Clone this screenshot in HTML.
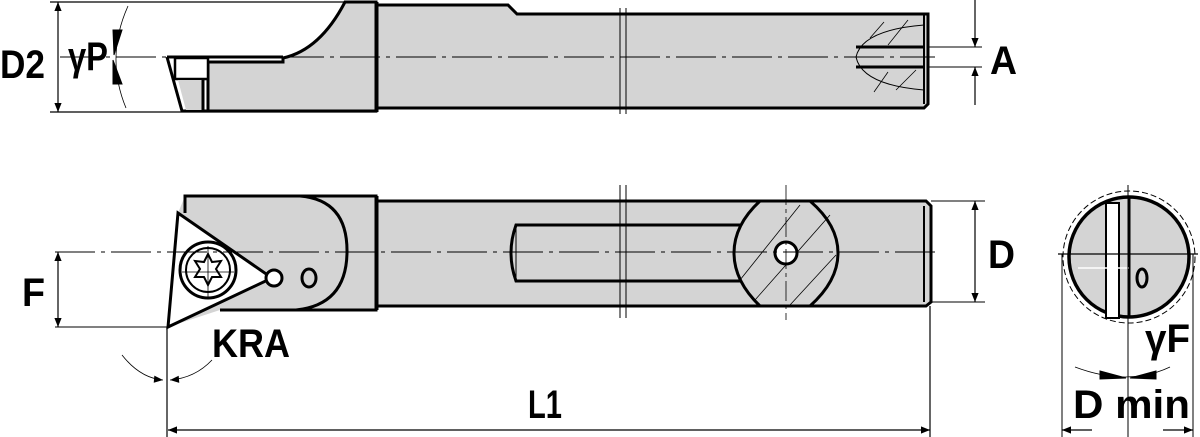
<!DOCTYPE html>
<html><head><meta charset="utf-8"><style>
html,body{margin:0;padding:0;background:#fff;}
svg{display:block;}
text{font-family:"Liberation Sans",sans-serif;fill:#000;font-weight:bold;}
</style></head><body>
<svg width="1200" height="437" viewBox="0 0 1200 437" xmlns="http://www.w3.org/2000/svg">
<defs>
<marker id="ar" viewBox="0 0 10 10" refX="10" refY="5" markerWidth="16" markerHeight="9" orient="auto-start-reverse" markerUnits="userSpaceOnUse"><path d="M0,1 L10,5 L0,9 z" fill="#000"/></marker>
</defs>
<g stroke="#000" fill="none">
<line x1="50" y1="2" x2="377" y2="2" stroke-width="1.2"/>
<line x1="50" y1="112" x2="377" y2="112" stroke-width="1.2"/>
<path d="M345,2 L376,2 L376,111 L208,111 L208,62 L283,62 L283,58 Q320,50 345,2 Z" fill="#d4d4d4" stroke-width="3"/>
<path d="M167,57 L283,57" stroke-width="3"/>
<path d="M167,57 L182,111 L208,111" stroke-width="3"/>
<rect x="175" y="58" width="33" height="21" fill="#fff" stroke-width="2.5"/>
<path d="M178,80 L203,80 L203,110 L186,110 Z" fill="#d4d4d4" stroke="none"/>
<line x1="203" y1="80" x2="203" y2="111" stroke-width="3"/>
<path d="M377,5 L508,5 L517,14 L928,14 L928,104 L924,108 L377,108 Z" fill="#d4d4d4" stroke-width="3"/>
<line x1="377" y1="2" x2="377" y2="112" stroke-width="3"/>
<line x1="620" y1="8" x2="620" y2="114" stroke-width="1"/>
<line x1="626" y1="8" x2="626" y2="114" stroke-width="1"/>
<line x1="924" y1="14" x2="924" y2="104" stroke-width="2"/>
<path d="M924,25 Q862,30 856,57 Q862,85 924,90" stroke-width="1"/>
<line x1="856" y1="47" x2="924" y2="47" stroke-width="3"/>
<line x1="856" y1="67" x2="924" y2="67" stroke-width="3"/>
<line x1="870" y1="38" x2="884" y2="22" stroke-width="0.8"/><line x1="888" y1="45" x2="908" y2="20" stroke-width="0.8"/>
<line x1="874" y1="92" x2="888" y2="72" stroke-width="0.8"/><line x1="896" y1="90" x2="916" y2="70" stroke-width="0.8"/>
<line x1="60" y1="57" x2="935" y2="57" stroke-width="1" stroke-dasharray="40,6,4,6"/>
<line x1="928" y1="47" x2="982" y2="47" stroke-width="1"/>
<line x1="928" y1="67" x2="982" y2="67" stroke-width="1"/>
<line x1="975" y1="0" x2="975" y2="47" stroke-width="1.2" marker-end="url(#ar)"/>
<line x1="975" y1="105" x2="975" y2="67" stroke-width="1.2" marker-end="url(#ar)"/>
<line x1="58" y1="30" x2="58" y2="2" stroke-width="1.2" marker-end="url(#ar)"/>
<line x1="58" y1="80" x2="58" y2="112" stroke-width="1.2" marker-end="url(#ar)"/>
<line x1="58" y1="30" x2="58" y2="80" stroke-width="1.2"/>
<path d="M128,6 Q105,57 126,108" stroke-width="0.8"/>
<path d="M113,30 L122,30 L114,55 Z" fill="#000"/>
<path d="M113,60 L122,84 L113,84 Z" fill="#000"/>
<path d="M185,196 L376,196 L376,310 L220,310 L168,327 L178,213 Z" fill="#d4d4d4" stroke="none"/>
<path d="M185,213 L185,196 L376,196 L376,310 L220,310" stroke-width="3"/>
<path d="M300,196 Q348,200 347,253 Q346,305 296,310" stroke-width="3"/>
<path d="M178,213 L272,278 L168,327 Z" fill="#fff" stroke-width="3"/>
<circle cx="208" cy="270" r="28" stroke-width="3"/>
<circle cx="208" cy="270" r="22" stroke-width="2"/>
<path d="M208,254 L212,262 L221,261 L216,269 L221,277 L212,277 L208,285 L204,277 L195,277 L200,269 L195,261 L204,262 Z" stroke-width="2"/>
<line x1="182" y1="272" x2="234" y2="272" stroke-width="0.8"/><line x1="208" y1="246" x2="208" y2="298" stroke-width="0.8"/>
<circle cx="274" cy="278" r="8" fill="#fff" stroke-width="3"/>
<ellipse cx="309" cy="278" rx="7" ry="9" stroke-width="3"/>
<path d="M377,201 L926,201 L931,206 L931,302 L926,306 L377,306 Z" fill="#d4d4d4" stroke-width="3"/>
<line x1="377" y1="196" x2="377" y2="310" stroke-width="3"/>
<path d="M740,225 L516,225 Q506,253 516,281 L740,281" fill="#d4d4d4" stroke-width="3"/>
<line x1="516" y1="225" x2="516" y2="281" stroke-width="1"/>
<path d="M760,201 L810,201 Q838,225 838,253 Q838,281 810,306 L760,306 Q734,281 734,253 Q734,225 760,201 Z" fill="#d4d4d4" stroke-width="3"/>
<g stroke-width="0.8"><line x1="740" y1="280" x2="800" y2="205"/><line x1="755" y1="300" x2="830" y2="215"/><line x1="790" y1="305" x2="836" y2="255"/></g>
<circle cx="786" cy="253" r="11" fill="#fff" stroke-width="3"/>
<line x1="620" y1="185" x2="620" y2="318" stroke-width="1"/>
<line x1="626" y1="185" x2="626" y2="318" stroke-width="1"/>
<line x1="924" y1="206" x2="924" y2="302" stroke-width="2"/>
<line x1="786" y1="185" x2="786" y2="320" stroke-width="0.8" stroke-dasharray="20,4,4,4"/>
<line x1="55" y1="252" x2="940" y2="252" stroke-width="1" stroke-dasharray="40,6,4,6"/>
<line x1="931" y1="201" x2="985" y2="201" stroke-width="1"/>
<line x1="931" y1="302" x2="985" y2="302" stroke-width="1"/>
<line x1="975" y1="252" x2="975" y2="201" stroke-width="1.2" marker-end="url(#ar)"/>
<line x1="975" y1="252" x2="975" y2="302" stroke-width="1.2" marker-end="url(#ar)"/>
<line x1="55" y1="327" x2="168" y2="327" stroke-width="1"/>
<line x1="58" y1="290" x2="58" y2="252" stroke-width="1.2" marker-end="url(#ar)"/>
<line x1="58" y1="290" x2="58" y2="327" stroke-width="1.2" marker-end="url(#ar)"/>
<line x1="167" y1="327" x2="167" y2="437" stroke-width="1.2"/>
<line x1="930" y1="306" x2="930" y2="437" stroke-width="1.2"/>
<line x1="168" y1="430" x2="930" y2="430" stroke-width="1.2" marker-start="url(#ar)" marker-end="url(#ar)"/>
<path d="M122,355 Q140,378 163,380" stroke-width="0.8" marker-end="url(#ar)"/>
<path d="M212,360 Q195,378 170,380" stroke-width="0.8" marker-end="url(#ar)"/>
<circle cx="1129" cy="257" r="66" stroke-width="1" stroke-dasharray="6,3"/>
<circle cx="1129" cy="257" r="60" fill="#d4d4d4" stroke-width="3.5"/>
<rect x="1106" y="203" width="13" height="115" fill="#fff" stroke-width="2"/>
<line x1="1129" y1="197" x2="1129" y2="317" stroke-width="3"/>
<line x1="1058" y1="254" x2="1198" y2="254" stroke-width="1.2"/>
<line x1="1078" y1="268" x2="1129" y2="268" stroke="#fff" stroke-width="1.5"/>
<ellipse cx="1142" cy="278" rx="5" ry="9" stroke-width="3"/>
<line x1="1128" y1="185" x2="1128" y2="437" stroke-width="1"/>
<line x1="1062" y1="254" x2="1062" y2="437" stroke-width="1"/>
<line x1="1193" y1="254" x2="1193" y2="437" stroke-width="1"/>
<path d="M1075,367 Q1128,387 1170,367" stroke-width="0.8"/>
<path d="M1100,371 L1126,378 L1100,379 Z" fill="#000"/>
<path d="M1156,371 L1130,378 L1156,379 Z" fill="#000"/>
<line x1="1062" y1="430" x2="1092" y2="430" stroke-width="1.2" marker-start="url(#ar)"/>
<line x1="1163" y1="430" x2="1193" y2="430" stroke-width="1.2" marker-end="url(#ar)"/>
</g>
<g font-size="40">
<text x="0" y="78" textLength="45" lengthAdjust="spacingAndGlyphs">D2</text>
<text x="68" y="70" textLength="40" lengthAdjust="spacingAndGlyphs">γP</text>
<text x="990" y="74" textLength="27" lengthAdjust="spacingAndGlyphs">A</text>
<text x="988" y="268" textLength="27" lengthAdjust="spacingAndGlyphs">D</text>
<text x="22" y="306" textLength="23" lengthAdjust="spacingAndGlyphs">F</text>
<text x="212" y="357" textLength="78" lengthAdjust="spacingAndGlyphs">KRA</text>
<text x="528" y="418" textLength="34" lengthAdjust="spacingAndGlyphs">L1</text>
<text x="1145" y="352" textLength="45" lengthAdjust="spacingAndGlyphs">γF</text>
<text x="1073" y="418" textLength="117" lengthAdjust="spacingAndGlyphs">D min</text>
</g>
</svg>
</body></html>
